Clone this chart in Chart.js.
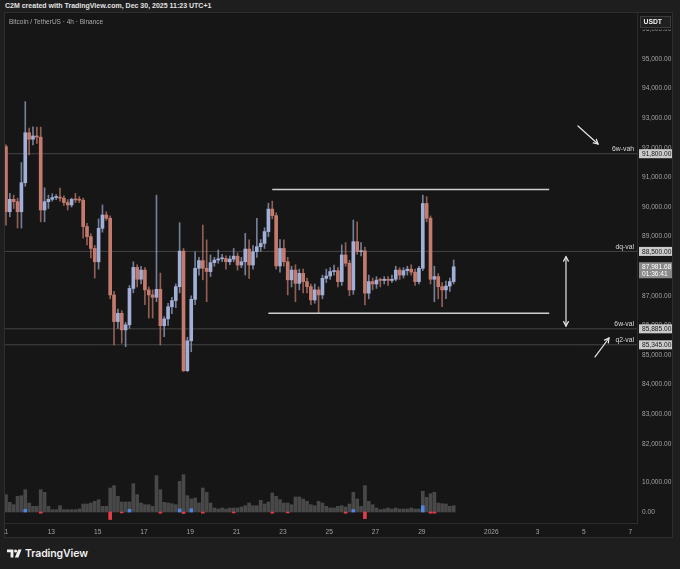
<!DOCTYPE html>
<html>
<head>
<meta charset="utf-8">
<script src="https://cdn.jsdelivr.net/npm/chart.js@4.4.1/dist/chart.umd.min.js"></script>
<style>
  html, body { margin: 0; padding: 0; width: 680px; height: 569px; overflow: hidden; background: #1e1e1e; font-family: "Liberation Sans", Arial, sans-serif; }
  #frame { position: absolute; left: 4px; top: 12px; width: 669px; height: 526px; box-sizing: border-box; border: 1px solid #2e2e2e; background: #161616; }
  #chart { position: absolute; left: 4px; top: 12px; z-index: 1; }
  #hdr { position: absolute; left: 5px; top: 2px; font-size: 7px; font-weight: bold; color: #e2e2e2; white-space: nowrap; }
  #sym { position: absolute; left: 9px; top: 18px; font-size: 6.5px; color: #aaaaaa; white-space: nowrap; z-index: 2; }
  #brand { position: absolute; left: 7px; top: 547px; display: flex; align-items: center; gap: 3px; }
  #brand span { font-family: Inter, "Open Sans", sans-serif; font-weight: 600; font-size: 10.5px; color: #f0f0f0; letter-spacing: -0.1px; }
</style>
</head>
<body>
<div id="hdr">C2M created with TradingView.com, Dec 30, 2025 11:23 UTC+1</div>
<div id="frame"></div>
<canvas id="chart" width="669" height="526"></canvas>
<div id="sym">Bitcoin / TetherUS · 4h · Binance</div>
<div id="brand">
  <svg width="15" height="9" viewBox="0 0 15 9"><path d="M0 0.5H6.4V8.5H3.6V3.3H0Z" fill="#f0f0f0"/><circle cx="8.6" cy="1.9" r="1.5" fill="#f0f0f0"/><path d="M11.2 0.5H14.6L11.4 8.5H7.9Z" fill="#f0f0f0"/></svg>
  <span>TradingView</span>
</div>
<script>
// BTC/USDT 4h candles, first bar opens Dec 11 01:00 (UTC+1)
const firstCandleHour = 1;
const barHours = 4;

const opens = [
  92040, 89840, 90260, 90180, 89840, 90820, 92510, 92290, 92400, 92360,
  89900, 90180, 90260, 90320, 90330, 90300, 90150, 90070, 90260, 90240,
  90230, 89340, 89000, 88600, 88150, 89280, 89730, 89620, 87030, 86130,
  86410, 85850, 86020, 87250, 87960, 87560, 87870, 87200, 87030, 86950,
  87220, 85990, 86220, 86630, 86840, 87310, 88510, 84470, 85480, 86880,
  87930, 88190, 87930, 87820, 88120, 88210, 88250, 88260, 88150, 88240,
  88340, 88040, 88150, 88580, 88040, 88490, 88660, 88770, 89170, 89930,
  89710, 88010, 88600, 88150, 87540, 87870, 87420, 87760, 87480, 87310,
  86860, 87200, 87030, 87590, 87670, 87820, 87850, 87480, 88380, 88100,
  87200, 88830, 88490, 88520, 87090, 87480, 87400, 87530, 87520, 87560,
  87520, 87560, 87870, 87700, 87850, 87900, 87800, 87480, 87930, 90120,
  89620, 87560, 87650, 87310, 87200, 87330, 87480
];
const highs = [
  92100, 90460, 90400, 90300, 91500, 93560, 92670, 92710, 92700, 92700,
  90650, 90400, 90450, 90420, 90640, 90380, 90250, 90300, 90460, 90350,
  90300, 89450, 89100, 88700, 89600, 90070, 89840, 89700, 87150, 86550,
  86500, 86100, 87350, 88150, 88050, 88000, 87950, 87300, 87200, 90400,
  87770, 86300, 86750, 86950, 87400, 89470, 88600, 85600, 87000, 88490,
  88300, 89390, 88890, 88380, 88300, 88550, 88400, 88350, 88350, 88600,
  88450, 88300, 89110, 88890, 88700, 89620, 88900, 89300, 90130, 90200,
  89800, 88900, 88890, 88300, 88000, 88050, 87900, 87900, 87600, 87400,
  87400, 87300, 87700, 87900, 87950, 88040, 87950, 88720, 88800, 88200,
  89560, 89500, 88800, 88650, 87700, 87600, 87650, 87600, 87650, 87650,
  87700, 88000, 87950, 87950, 88000, 88050, 87900, 88000, 90400, 90350,
  89700, 88000, 87750, 87450, 87500, 87600, 88210
];
const lows = [
  89390, 89670, 89950, 89290, 89290, 90700, 91760, 92100, 92150, 89500,
  89500, 89950, 90200, 90250, 90200, 90050, 89900, 90000, 90150, 90150,
  88950, 88720, 88280, 87600, 87900, 89150, 89550, 86900, 85340, 85900,
  85400, 85280, 85900, 87100, 87300, 87400, 86700, 86250, 86250, 86800,
  85340, 85620, 86000, 86400, 86600, 87100, 84440, 84440, 85110, 86700,
  87700, 87540, 86800, 87650, 88000, 88100, 88150, 87900, 88050, 88150,
  87870, 87950, 87700, 87590, 87900, 88300, 88500, 88600, 89000, 89600,
  87900, 87800, 88000, 87030, 87300, 86800, 87200, 87100, 87100, 86700,
  86750, 86400, 86900, 87450, 87550, 87700, 87300, 87350, 88000, 87000,
  87050, 88400, 88350, 86690, 86900, 87200, 87250, 87300, 87400, 87350,
  87450, 87500, 87550, 87600, 87700, 87700, 87350, 87400, 87850, 89500,
  87400, 86800, 86900, 86630, 86900, 87150, 87400
];
const closes = [
  89840, 90260, 90180, 89840, 90820, 92510, 92290, 92400, 92360, 89900,
  90180, 90260, 90320, 90330, 90300, 90150, 90070, 90260, 90240, 90230,
  89340, 89000, 88600, 88150, 89280, 89730, 89620, 87030, 86130, 86410,
  85850, 86020, 87250, 87960, 87560, 87870, 87200, 87030, 86950, 87220,
  85990, 86220, 86630, 86840, 87310, 88510, 84470, 85480, 86880, 87930,
  88190, 87930, 87820, 88120, 88210, 88250, 88260, 88150, 88240, 88340,
  88040, 88150, 88580, 88040, 88490, 88660, 88770, 89170, 89930, 89710,
  88010, 88600, 88150, 87540, 87870, 87420, 87760, 87480, 87310, 86860,
  87200, 87030, 87590, 87670, 87820, 87850, 87480, 88380, 88100, 87200,
  88830, 88490, 88520, 87090, 87480, 87400, 87530, 87520, 87560, 87520,
  87560, 87870, 87700, 87850, 87900, 87800, 87480, 87930, 90120, 89620,
  87560, 87650, 87310, 87200, 87330, 87480, 87981.68
];
const volumes = [
  5780, 3220, 2440, 5220, 5440, 7440, 3000, 1890, 1890, 7440,
  6560, 1890, 780, 780, 2110, 780, 780, 780, 780, 1000,
  2670, 2670, 3000, 3560, 4110, 1890, 1890, 8000, 8780, 5220,
  3330, 3330, 3330, 9440, 5780, 3000, 2440, 2440, 1890, 12110,
  7440, 3220, 3000, 2780, 2440, 10220, 12440, 5440, 4330, 4670,
  3000, 8000, 6560, 3000, 1330, 1000, 1330, 1000, 1330, 1330,
  1330, 1670, 2110, 3000, 2110, 2110, 3890, 2670, 3330, 6330,
  5220, 4110, 3000, 3000, 2440, 5000, 5000, 4330, 3560, 2440,
  2110, 3560, 3000, 1890, 1330, 1330, 1890, 2110, 1670, 2670,
  6560, 4330, 1890, 8780, 3560, 2440, 1330, 780, 1000, 1330,
  1000, 1330, 1000, 1000, 1000, 1330, 1000, 1000, 6890, 4890,
  6110, 6560, 3000, 2780, 2670, 1890, 2110
];
// volume-signal markers (bar index -> value on the volume scale)
const buyFlagIndex = [5, 32, 45, 48, 90, 108];
const buyFlagValue = [900, 900, 1000, 1100, 800, 2100];
const sellFlagIndex = [9, 27, 30, 40, 46, 51, 59, 69, 73, 88, 93, 110, 111];
const sellFlagValue = [-400, -2500, -300, -400, -500, -400, -300, -400, -300, -400, -2200, -400, -400];

// horizontal levels
const levelValues = [91800, 88500, 85885, 85345];
const levelNames = ['6w-vah', 'dq-val', '6w-val', 'q2-val'];

// range box (hours since Dec 11 00:00)
const boxTop = 90590, boxTopStart = 277;
const boxBottom = 86410, boxBottomStart = 273;
const boxEnd = 564;

// arrows: [fromHour, fromPrice, toHour, toPrice]
const rangeArrow = [581.4, 88320, 581.4, 85980];
const arrowDown = [593.8, 92737, 614.6, 92129];
const arrowUp = [611.5, 84934, 626.0, 85575];

const lastPrice = 87981.68;
const barCountdown = '01:36:41';

// axis ticks
const priceTicks = [96000, 95000, 94000, 93000, 92000, 91000, 90000, 89000, 88000, 87000, 86000, 85000, 84000, 83000, 82000];
const volumeTicks = [0, 10000];
const dayTickHours = [0, 48, 96, 144, 192, 240, 288, 336, 384, 432, 504, 552, 600, 648];
const dayTickLabels = ['11', '13', '15', '17', '19', '21', '23', '25', '27', '29', '2026', '3', '5', '7'];

const xMin = 0, xMax = 655;
const priceMin = 81116, priceMax = 96554;
const volMin = -3667, volMax = 14000;

const upColor = '#a2b0d8', downColor = '#c47a6c';
const upWick = 'rgba(150,162,196,0.75)', downWick = 'rgba(190,120,106,0.75)';
const axisText = '#a2a2a2';
const FONT = '"Liberation Sans", Arial, sans-serif';
const tickFont = { family: FONT, size: 6.6 };

const times = opens.map((_, i) => firstCandleHour + barHours * i);
const isUp = closes.map((c, i) => c >= opens[i]);

const fmt = v => v.toLocaleString('en-US', { minimumFractionDigits: 2, maximumFractionDigits: 2 });

const overlay = {
  id: 'overlay',
  afterDatasetsDraw(chart) {
    const { ctx, chartArea, scales: { x, y } } = chart;
    ctx.save();
    // level captions
    ctx.font = '6.8px ' + FONT;
    ctx.fillStyle = '#dadada';
    ctx.textAlign = 'right';
    ctx.textBaseline = 'alphabetic';
    levelValues.forEach((v, i) => {
      ctx.fillText(levelNames[i], chartArea.right - 3, y.getPixelForValue(v) - 2.5);
    });
    // arrows
    ctx.strokeStyle = '#e6e6e6';
    ctx.lineWidth = 1.2;
    ctx.lineCap = 'round';
    const head = (px, py, ang) => {
      const L = 5, a = 0.5;
      ctx.beginPath();
      ctx.moveTo(px - L * Math.cos(ang - a), py - L * Math.sin(ang - a));
      ctx.lineTo(px, py);
      ctx.lineTo(px - L * Math.cos(ang + a), py - L * Math.sin(ang + a));
      ctx.stroke();
    };
    const arrow = (a, both) => {
      const x1 = x.getPixelForValue(a[0]), y1 = y.getPixelForValue(a[1]);
      const x2 = x.getPixelForValue(a[2]), y2 = y.getPixelForValue(a[3]);
      ctx.beginPath(); ctx.moveTo(x1, y1); ctx.lineTo(x2, y2); ctx.stroke();
      const ang = Math.atan2(y2 - y1, x2 - x1);
      head(x2, y2, ang);
      if (both) head(x1, y1, ang + Math.PI);
    };
    arrow(rangeArrow, true);
    arrow(arrowDown, false);
    arrow(arrowUp, false);
    ctx.restore();
  },
  afterDraw(chart) {
    const { ctx, chartArea, scales: { y } } = chart;
    const left = chartArea.right + 2, w = chart.width - left - 1;
    ctx.save();
    ctx.font = '6.6px ' + FONT;
    ctx.textBaseline = 'middle';
    ctx.textAlign = 'left';
    levelValues.forEach(v => {
      const py = y.getPixelForValue(v);
      ctx.fillStyle = '#cbcbcb';
      ctx.fillRect(left, py - 4.5, w, 9);
      ctx.fillStyle = '#1b1b1b';
      ctx.fillText(fmt(v), left + 3, py + 0.5);
    });
    const pp = y.getPixelForValue(lastPrice);
    ctx.fillStyle = '#8a8a8a';
    ctx.fillRect(left, pp - 4.5, w, 16);
    ctx.fillStyle = '#ffffff';
    ctx.fillText(fmt(lastPrice), left + 3, pp + 0.5);
    ctx.fillText(barCountdown, left + 3, pp + 7);
    // currency badge
    ctx.fillStyle = '#161616';
    ctx.fillRect(left, 1, w, 16.5);
    ctx.fillStyle = '#202020';
    ctx.strokeStyle = '#3c3c3c';
    ctx.lineWidth = 1;
    ctx.fillRect(left + 1.5, 4.5, w - 3, 11);
    ctx.strokeRect(left + 1.5, 4.5, w - 3, 11);
    ctx.fillStyle = '#f2f2f2';
    ctx.font = 'bold 6.8px ' + FONT;
    ctx.fillText('USDT', left + 4.5, 10.5);
    ctx.restore();
  }
};

const lineDs = (pts, color, width, order) => ({
  type: 'line', data: pts, borderColor: color, borderWidth: width,
  pointRadius: 0, fill: false, order, xAxisID: 'x', yAxisID: 'y'
});

new Chart(document.getElementById('chart'), {
  type: 'bar',
  data: {
    datasets: [
      ...levelValues.map(v => lineDs([{ x: xMin, y: v }, { x: xMax, y: v }], 'rgba(255,255,255,0.2)', 1, 30)),
      lineDs([{ x: boxTopStart, y: boxTop }, { x: boxEnd, y: boxTop }], '#cfcfcf', 1.4, 0),
      lineDs([{ x: boxBottomStart, y: boxBottom }, { x: boxEnd, y: boxBottom }], '#cfcfcf', 1.4, 0),
      {
        label: 'Volume', yAxisID: 'yv', xAxisID: 'x', order: 12, grouped: false,
        data: times.map((t, i) => ({ x: t, y: volumes[i] })),
        backgroundColor: '#484848', barThickness: 3
      },
      {
        label: 'Buy flags', yAxisID: 'yv', xAxisID: 'x', order: 11, grouped: false,
        data: buyFlagIndex.map((k, j) => ({ x: times[k], y: buyFlagValue[j] })),
        backgroundColor: '#4f86e0', barThickness: 3
      },
      {
        label: 'Sell flags', yAxisID: 'yv', xAxisID: 'x', order: 11, grouped: false,
        data: sellFlagIndex.map((k, j) => ({ x: times[k], y: sellFlagValue[j] })),
        backgroundColor: '#e23d47', barThickness: 3
      },
      {
        label: 'Wicks', yAxisID: 'y', xAxisID: 'x', order: 2, grouped: false,
        data: times.map((t, i) => ({ x: t, y: [lows[i], highs[i]] })),
        backgroundColor: isUp.map(u => u ? upWick : downWick), barThickness: 1
      },
      {
        label: 'BTCUSDT', yAxisID: 'y', xAxisID: 'x', order: 1, grouped: false,
        data: times.map((t, i) => ({ x: t, y: [opens[i], closes[i]] })),
        backgroundColor: isUp.map(u => u ? upColor : downColor), barThickness: 3, minBarLength: 1
      }
    ]
  },
  options: {
    responsive: false, animation: false, devicePixelRatio: 1,
    layout: { padding: { left: 1, top: 1, right: 0, bottom: 0 } },
    plugins: { legend: { display: false }, tooltip: { enabled: false } },
    scales: {
      x: {
        type: 'linear', min: xMin, max: xMax, offset: false,
        grid: { display: false, drawTicks: false },
        border: { display: true, color: '#2c2c2c' },
        ticks: {
          color: axisText, font: tickFont, padding: 5, autoSkip: false, maxRotation: 0, minRotation: 0,
          callback: v => { const k = dayTickHours.indexOf(v); return k >= 0 ? dayTickLabels[k] : ''; }
        },
        afterBuildTicks: s => { s.ticks = dayTickHours.map(v => ({ value: v })); },
        afterFit: s => { s.height = 15; s.paddingLeft = 0; s.paddingRight = 0; }
      },
      y: {
        type: 'linear', position: 'right', stack: 'pane', stackWeight: 457,
        min: priceMin, max: priceMax, offset: false,
        grid: { display: false, drawTicks: false },
        border: { display: true, color: '#2c2c2c' },
        ticks: { color: axisText, font: tickFont, padding: 5, callback: v => fmt(v) },
        afterBuildTicks: s => { s.ticks = priceTicks.map(v => ({ value: v })); },
        afterFit: s => { s.width = 36; s.paddingTop = 0; s.paddingBottom = 0; }
      },
      yv: {
        type: 'linear', position: 'right', stack: 'pane', stackWeight: 53,
        min: volMin, max: volMax, offset: false,
        grid: { display: false, drawTicks: false },
        border: { display: true, color: '#2c2c2c' },
        ticks: { color: axisText, font: tickFont, padding: 5, callback: v => fmt(v) },
        afterBuildTicks: s => { s.ticks = volumeTicks.map(v => ({ value: v })); },
        afterFit: s => { s.width = 36; s.paddingTop = 0; s.paddingBottom = 0; }
      }
    }
  },
  plugins: [overlay]
});
</script>
</body>
</html>
